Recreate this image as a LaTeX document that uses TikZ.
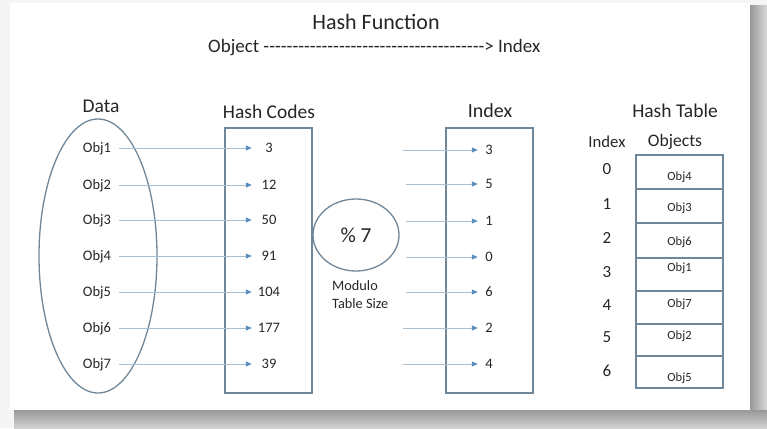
\documentclass[tikz,border=0pt]{standalone}
\usepackage{fontspec}
\setmainfont{Carlito}
\usetikzlibrary{arrows.meta,shapes.geometric}
\definecolor{txt}{HTML}{262626}
\definecolor{boxc}{HTML}{70879A}
\definecolor{arrc}{HTML}{A9BFD0}
\definecolor{tipc}{HTML}{5B8DBF}
\newcommand\hyph{-\kern0pt}
\newcommand\hyphten{\hyph\hyph\hyph\hyph\hyph\hyph\hyph\hyph\hyph\hyph}
\begin{document}
\begin{tikzpicture}[x=1pt,y=-1pt,
  every node/.style={text=txt, inner sep=0pt},
  ttl/.style={font=\fontsize{19.5}{22}\selectfont},
  lbl/.style={font=\fontsize{14.5}{17}\selectfont, text height=9.3pt, text depth=0pt},
  code/.style={lbl, minimum width=28pt},
  idx/.style={lbl, minimum width=12pt},
  digit/.style={font=\fontsize{17}{20}\selectfont, text height=11pt, text depth=0pt},
  cell/.style={draw=boxc, line width=1.2pt, minimum width=87pt},
  celltxt/.style={font=\fontsize{12.5}{15}\selectfont, text height=8pt, text depth=0pt},
  boxline/.style={draw=boxc, line width=1.3pt},
  arr/.style={draw=arrc, line width=1pt, -{Triangle[length=6pt,width=5pt,color=tipc]}}]
% background, card and shadow
\useasboundingbox (0,0) rectangle (767,428);
\fill[white!96!black] (0,0) rectangle (767,428);
\shade[left color=gray!80, right color=gray!30] (750,6) rectangle (767,428);
\shade[top color=gray!80, bottom color=gray!35] (14,410) rectangle (767,428);
\fill[white] (10,3) rectangle (750,410);
% titles
\node[font=\fontsize{22}{26}\selectfont] (title) at (376,22) {Hash Function};
\node[font=\fontsize{19}{22}\selectfont, anchor=west] (sub) at (208,48)
  {Object \hyphten\hyphten\hyphten\hyph\hyph\hyph\hyph\hyph\hyph\hyph\hyph{}> Index};
\node[ttl] (tdata) at (101,106) {Data};
\node[ttl] (tcodes) at (269,112) {Hash Codes};
\node[font=\fontsize{20}{22}\selectfont] (tindex) at (490,111) {Index};
\node[ttl] (ttable) at (675,111) {Hash Table};
\node[font=\fontsize{16.7}{20}\selectfont] (tidx) at (607,142) {Index};
\node[font=\fontsize{17.6}{20}\selectfont] (tobj) at (675,142) {Objects};
% data ellipse
\node[ellipse, boxline, minimum width=118pt, minimum height=274pt] (data) at (98,256) {};
% hash codes box and index box
\draw[boxline] (225,128) rectangle (312,393);
\draw[boxline] (446,128) rectangle (533,393);
% modulo ellipse
\node[ellipse, boxline, minimum width=86pt, minimum height=72pt,
      font=\fontsize{21.4}{24}\selectfont] (mod) at (356,235) {\% 7};
\node[anchor=west, align=left, font=\fontsize{14.3}{18}\selectfont] (modtxt) at (332,295) {Modulo\\Table Size};
% objects -> hash codes
\foreach \i/\y/\c in {1/148/3,2/185/12,3/220/50,4/256/91,5/292/104,6/328/177,7/364/39}{
  \node[lbl] (o\i) at (97,\y) {Obj\i};
  \node[code] (h\i) at (269,\y) {\c};
  \draw[arr, shorten <=8pt, shorten >=3pt] (o\i.east) -- (h\i.west);
}
% hash codes % 7 -> index
\foreach \i/\y/\x/\v in {1/150/403/3,2/184/406/5,3/221/406/1,4/257/406/0,5/292/406/6,6/328/403/2,7/364/403/4}{
  \coordinate (s\i) at (\x,\y);
  \node[idx] (i\i) at (489,\y) {\v};
  \draw[arr, shorten >=5pt] (s\i) -- (i\i.west);
}
% hash table
\foreach \i/\a/\b in {0/155/189,1/189/223,2/223/258,3/258/291,4/291/324,5/324/356,6/356/388}{
  \node[cell, minimum height={\b-\a}] (t\i) at (679.5,{(\a+\b)/2}) {};
}
\foreach \i/\y in {0/169,1/204,2/238,3/272,4/305,5/337,6/371}{
  \node[digit] (d\i) at (607,\y) {\i};
}
\foreach \n/\y/\o in {0/176/4,1/207/3,2/241/6,3/267/1,4/303/7,5/335/2,6/377/5}{
  \node[celltxt] (c\n) at (679.5,\y) {Obj\o};
}
\end{tikzpicture}
\end{document}
